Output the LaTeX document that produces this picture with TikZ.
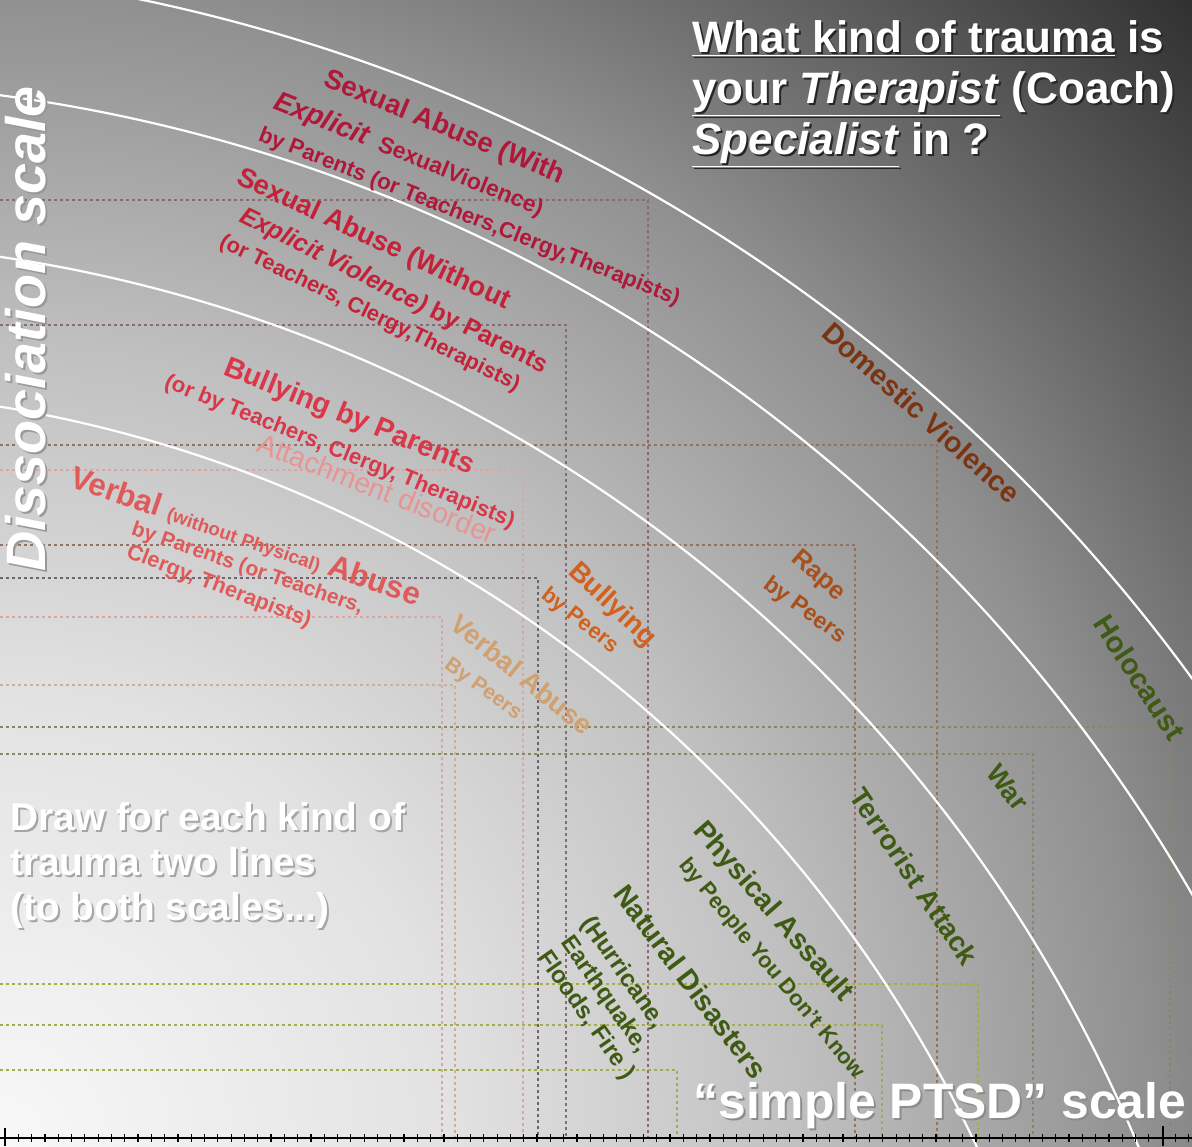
\documentclass[tikz,border=0pt]{standalone}
\usepackage{fontspec}
\setmainfont{Liberation Sans}
\usetikzlibrary{positioning}

\newcommand{\fsize}[1]{\fontsize{#1}{#1}\selectfont}

% background
\definecolor{bgA}{HTML}{F8F8F8}
\definecolor{bgB}{HTML}{E2E2E2}
\definecolor{bgC}{HTML}{C0C0C0}
\definecolor{bgD}{HTML}{909090}
\definecolor{bgE}{HTML}{606060}
\definecolor{bgF}{HTML}{303030}
\pgfdeclareradialshading{slideglow}{\pgfpoint{0bp}{0bp}}{%
  color(0bp)=(bgA); color(6.5bp)=(bgB); color(11.6bp)=(bgC);
  color(16.7bp)=(bgD); color(20.3bp)=(bgE); color(24bp)=(bgF); color(50bp)=(bgF)}

% labels
\definecolor{sawith}{HTML}{B0183A}
\definecolor{sawithout}{HTML}{C42238}
\definecolor{bullpar}{HTML}{D8384A}
\definecolor{verbpar}{HTML}{E05A5A}
\definecolor{attach}{HTML}{E89494}
\definecolor{bullpeer}{HTML}{D2601E}
\definecolor{verbpeer}{HTML}{D0A070}
\definecolor{rapecol}{HTML}{A8501C}
\definecolor{domviol}{HTML}{7A3412}
\definecolor{greencol}{HTML}{3F5A14}

% dotted lines
\definecolor{dotmauve}{HTML}{8A6A72}
\definecolor{dotpink}{HTML}{DCA4A4}
\definecolor{dotdark}{HTML}{6E6470}
\definecolor{dotbeige}{HTML}{C8B09C}
\definecolor{dotbrown}{HTML}{927262}
\definecolor{dotolive}{HTML}{868A5C}
\definecolor{dotgreen}{HTML}{A4AC4C}

\begin{document}
\begin{tikzpicture}[x=0.5pt, y=-0.5pt,
  lbl/.style={inner sep=0pt, anchor=base west},
  dotline/.style={line width=1.3pt, dash pattern=on 1.3pt off 1.7pt},
  ring/.style={draw=white, line width=1.1pt},
  axistick/.style={line width=0.6pt}]

\useasboundingbox (0,0) rectangle (1192,1146);
\begin{scope}
\clip (0,0) rectangle (1192,1146);
\shade[shading=slideglow] (0,1146) circle (1722);

% the two scales
\coordinate (dissoc) at (0,0);
\coordinate (ptsd-left) at (0,1138);
\coordinate (ptsd-right) at (1192,1138);

% one corner for each kind of trauma
\coordinate (sa-with) at (648,200);
\coordinate (sa-without) at (566,325);
\coordinate (bully-parents) at (523,470);
\coordinate (verbal-parents) at (442,617);
\coordinate (domestic) at (937,445);
\coordinate (rape) at (855,545);
\coordinate (bully-peers) at (538,578);
\coordinate (verbal-peers) at (455,685);
\coordinate (holocaust) at (1170,727);
\coordinate (war) at (1033,754);
\coordinate (terror) at (978,984);
\coordinate (assault) at (882,1025);
\coordinate (disaster) at (677,1070);

\draw[dotline, dotmauve] (sa-with -| dissoc) -- (sa-with) -- (sa-with |- ptsd-left);
\draw[dotline, dotmauve] (sa-without -| dissoc) -- (sa-without) -- (sa-without |- ptsd-left);
\draw[dotline, dotpink] (bully-parents -| dissoc) -- (bully-parents) -- (bully-parents |- ptsd-left);
\draw[dotline, dotpink] (verbal-parents -| dissoc) -- (verbal-parents) -- (verbal-parents |- ptsd-left);
\draw[dotline, dotbrown] (domestic -| dissoc) -- (domestic) -- (domestic |- ptsd-left);
\draw[dotline, dotbrown] (rape -| dissoc) -- (rape) -- (rape |- ptsd-left);
\draw[dotline, dotdark] (bully-peers -| dissoc) -- (bully-peers) -- (bully-peers |- ptsd-left);
\draw[dotline, dotbeige] (verbal-peers -| dissoc) -- (verbal-peers) -- (verbal-peers |- ptsd-left);
\draw[dotline, dotolive] (holocaust -| dissoc) -- (holocaust) -- (holocaust |- ptsd-left);
\draw[dotline, dotolive] (war -| dissoc) -- (war) -- (war |- ptsd-left);
\draw[dotline, dotgreen] (terror -| dissoc) -- (terror) -- (terror |- ptsd-left);
\draw[dotline, dotgreen] (assault -| dissoc) -- (assault) -- (assault |- ptsd-left);
\draw[dotline, dotgreen] (disaster -| dissoc) -- (disaster) -- (disaster |- ptsd-left);

% rings
\coordinate (hub) at (-216,1706);
\draw[ring] (hub) circle (1317);
\draw[ring] (hub) circle (1465);
\draw[ring] (hub) circle (1625);
\draw[ring] (hub) circle (1743);

% ptsd axis
\draw[axistick] (ptsd-left) -- (ptsd-right);
\foreach \t in {0,...,89} {\draw[axistick] (5+13.3*\t,1134) -- (5+13.3*\t,1142);}
\draw[line width=0.8pt] (5,1128) -- (5,1146);
\draw[line width=0.8pt] (1163,1126) -- (1163,1146);

% sexual abuse with violence
\node[lbl, text=sawith, rotate=-22.5, font={\bfseries\fsize{13.8}}] (sa-with-1) at (322,85) {Sexual Abuse (With};
\node[lbl, text=sawith, rotate=-22, font={\bfseries\fsize{11.5}}] (sa-with-2) at (272,108) {{\itshape\fsize{14}Explicit}\ \ SexualViolence)};
\node[lbl, text=sawith, rotate=-21.5, font={\bfseries\fsize{11.1}}] (sa-with-3) at (257,140) {by Parents (or Teachers,Clergy,Therapists)};

% sexual abuse without violence
\node[lbl, text=sawithout, rotate=-25, font={\bfseries\fsize{13.7}}] (sa-without-1) at (235,183) {Sexual Abuse (Without};
\node[lbl, text=sawithout, rotate=-26.5, font={\bfseries\fsize{12.5}}] (sa-without-2) at (238,221) {{\itshape Explicit Violence)} by Parents};
\node[lbl, text=sawithout, rotate=-26, font={\bfseries\fsize{10.9}}] (sa-without-3) at (218,246) {(or Teachers, Clergy,Therapists)};

% bullying by parents
\node[lbl, text=bullpar, rotate=-22, font={\bfseries\fsize{14.3}}] (bully-parents-1) at (222,374) {Bullying by Parents};
\node[lbl, text=bullpar, rotate=-22, font={\bfseries\fsize{11.1}}] (bully-parents-2) at (163,387) {(or by Teachers, Clergy, Therapists)};
\node[lbl, text=attach, rotate=-21.5, font={\fsize{14.2}}] (attachment) at (255,451) {Attachment disorder};

% verbal abuse by parents
\node[lbl, text=verbpar, rotate=-19, font={\bfseries\fsize{15.7}}] (verbal-parents-1) at (68,486) {Verbal {\fsize{9.4}(without Physical)} Abuse};
\node[lbl, text=verbpar, rotate=-19, font={\bfseries\fsize{10.5}}] (verbal-parents-2) at (130,534) {by Parents (or Teachers,};
\node[lbl, text=verbpar, rotate=-21, font={\bfseries\fsize{10.9}}] (verbal-parents-3) at (125,557) {Clergy, Therapists)};

% peers
\node[lbl, text=bullpeer, rotate=-43, font={\bfseries\fsize{13.8}}] (bully-peers-1) at (567,573) {Bullying};
\node[lbl, text=bullpeer, rotate=-38, font={\bfseries\fsize{11}}] (bully-peers-2) at (540,597) {by Peers};
\node[lbl, text=verbpeer, rotate=-39, font={\bfseries\fsize{13.7}}] (verbal-peers-1) at (448,627) {Verbal Abuse};
\node[lbl, text=verbpeer, rotate=-36, font={\bfseries\fsize{10.5}}] (verbal-peers-2) at (443,667) {By Peers};
\node[lbl, text=rapecol, rotate=-41, font={\bfseries\fsize{12.8}}] (rape-1) at (790,560) {Rape};
\node[lbl, text=rapecol, rotate=-36, font={\bfseries\fsize{11.5}}] (rape-2) at (762,587) {by Peers};
\node[lbl, text=domviol, rotate=-42, font={\bfseries\fsize{14.3}}] (domestic-lbl) at (820,335) {Domestic Violence};

% simple ptsd side
\node[lbl, text=greencol, rotate=-57, font={\bfseries\fsize{14.7}}] (holocaust-lbl) at (1092,623) {Holocaust};
\node[lbl, text=greencol, rotate=-53, font={\bfseries\fsize{13.5}}] (war-lbl) at (985,773) {War};
\node[lbl, text=greencol, rotate=-56, font={\bfseries\fsize{14}}] (terror-lbl) at (848,796) {Terrorist Attack};
\node[lbl, text=greencol, rotate=-49, font={\bfseries\fsize{14.3}}] (assault-1) at (692,831) {Physical Assault};
\node[lbl, text=greencol, rotate=-50.5, font={\bfseries\fsize{11}}] (assault-2) at (678,865) {by People You Don't Know};
\node[lbl, text=greencol, rotate=-53, font={\bfseries\fsize{14.2}}] (disaster-1) at (612,894) {Natural Disasters};
\node[lbl, text=greencol, rotate=-55, font={\bfseries\fsize{12.3}}] (disaster-2) at (580,923) {(Hurricane,};
\node[lbl, text=greencol, rotate=-55, font={\bfseries\fsize{11.9}}] (disaster-3) at (560,942) {Earthquake,};
\node[lbl, text=greencol, rotate=-55, font={\bfseries\fsize{12}}] (disaster-4) at (537,957) {Floods, Fire )};

% question
\node[lbl, text=black!85, font={\bfseries\fsize{22}}] (title-1-shadow) at (694,54) {\underline{What kind of trauma} is};
\node[lbl, text=black!85, font={\bfseries\fsize{22}}] (title-2-shadow) at (694,105) {\underline{your \textit{Therapist}} (Coach)};
\node[lbl, text=black!85, font={\bfseries\fsize{22}}] (title-3-shadow) at (694,156) {\underline{\textit{Specialist}} in ?};
\node[lbl, text=white, font={\bfseries\fsize{22}}] (title-1) at (692,52) {\underline{What kind of trauma} is};
\node[lbl, text=white, font={\bfseries\fsize{22}}] (title-2) at (692,103) {\underline{your \textit{Therapist}} (Coach)};
\node[lbl, text=white, font={\bfseries\fsize{22}}] (title-3) at (692,154) {\underline{\textit{Specialist}} in ?};

% scale names
\node[lbl, text=black!40, rotate=90, font={\bfseries\itshape\fsize{27.8}}] (dissoc-shadow) at (47,574) {Dissociation scale};
\node[lbl, text=white, rotate=90, font={\bfseries\itshape\fsize{27.8}}] (dissoc-lbl) at (45,572) {Dissociation scale};
\node[lbl, text=black!45, font={\bfseries\fsize{24.9}}] (ptsd-shadow) at (695,1120) {“simple PTSD” scale};
\node[lbl, text=white, font={\bfseries\fsize{24.9}}] (ptsd-lbl) at (693,1118) {“simple PTSD” scale};

% hint
\node[lbl, text=black!35, font={\bfseries\fsize{19.4}}] (hint-1-shadow) at (12,832) {Draw for each kind of};
\node[lbl, text=black!35, font={\bfseries\fsize{19.4}}] (hint-2-shadow) at (12,877) {trauma two lines};
\node[lbl, text=black!35, font={\bfseries\fsize{19.4}}] (hint-3-shadow) at (12,922) {(to both scales...)};
\node[lbl, text=white, font={\bfseries\fsize{19.4}}] (hint-1) at (10,830) {Draw for each kind of};
\node[lbl, text=white, font={\bfseries\fsize{19.4}}] (hint-2) at (10,875) {trauma two lines};
\node[lbl, text=white, font={\bfseries\fsize{19.4}}] (hint-3) at (10,920) {(to both scales...)};
\end{scope}
\end{tikzpicture}
\end{document}
